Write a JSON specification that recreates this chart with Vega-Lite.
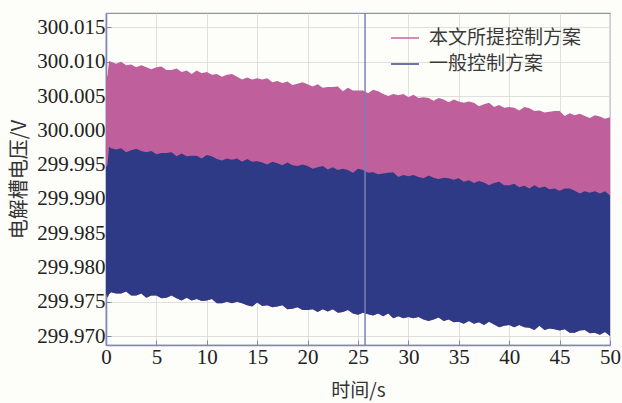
{
  "$schema": "https://vega.github.io/schema/vega-lite/v6.json",
  "autosize": "none",
  "width": 504,
  "height": 332,
  "padding": {"left": 106, "top": 13, "right": 12, "bottom": 58},
  "background": "#fdfdf9",
  "config": {
    "view": {"stroke": "#8c90bb", "strokeWidth": 1.2},
    "axis": {
      "labelFont": "Liberation Serif, DejaVu Serif, serif",
      "labelFontSize": 21,
      "labelColor": "#222222",
      "titleFont": "Noto Sans CJK SC",
      "titleFontSize": 19,
      "titleFontWeight": "normal",
      "titleColor": "#333333",
      "gridColor": "#d8d8d8",
      "gridWidth": 0.8,
      "domainColor": "#8286b6",
      "domainWidth": 1.6,
      "tickColor": "#8286b6",
      "tickSize": -5
    },
    "legend": {
      "labelFont": "Noto Sans CJK SC",
      "labelFontSize": 19,
      "labelColor": "#3a3a3a"
    }
  },
  "datasets": {
    "sig": [
      {"t": 0, "p": 300.0076, "b": 299.9946, "l": 299.9762},
      {"t": 0.15, "p": 300.0080, "b": 299.9950, "l": 299.9756},
      {"t": 0.3, "p": 300.0101, "b": 299.9976, "l": 299.9761},
      {"t": 0.5, "p": 300.0100, "b": 299.9974, "l": 299.9764},
      {"t": 1, "p": 300.0097, "b": 299.9972, "l": 299.9762},
      {"t": 1.5, "p": 300.0100, "b": 299.9974, "l": 299.9762},
      {"t": 2, "p": 300.0095, "b": 299.9968, "l": 299.9765},
      {"t": 2.5, "p": 300.0096, "b": 299.9971, "l": 299.9759},
      {"t": 3, "p": 300.0092, "b": 299.9973, "l": 299.9759},
      {"t": 3.5, "p": 300.0095, "b": 299.9970, "l": 299.9762},
      {"t": 4, "p": 300.0092, "b": 299.9968, "l": 299.9756},
      {"t": 4.5, "p": 300.0089, "b": 299.9970, "l": 299.9759},
      {"t": 5, "p": 300.0092, "b": 299.9965, "l": 299.9759},
      {"t": 5.5, "p": 300.0093, "b": 299.9967, "l": 299.9755},
      {"t": 6, "p": 300.0088, "b": 299.9967, "l": 299.9756},
      {"t": 6.5, "p": 300.0088, "b": 299.9968, "l": 299.9759},
      {"t": 7, "p": 300.0090, "b": 299.9962, "l": 299.9755},
      {"t": 7.5, "p": 300.0085, "b": 299.9966, "l": 299.9752},
      {"t": 8, "p": 300.0087, "b": 299.9962, "l": 299.9756},
      {"t": 8.5, "p": 300.0082, "b": 299.9963, "l": 299.9752},
      {"t": 9, "p": 300.0087, "b": 299.9963, "l": 299.9754},
      {"t": 9.5, "p": 300.0083, "b": 299.9959, "l": 299.9751},
      {"t": 10, "p": 300.0085, "b": 299.9964, "l": 299.9752},
      {"t": 10.5, "p": 300.0081, "b": 299.9962, "l": 299.9754},
      {"t": 11, "p": 300.0082, "b": 299.9958, "l": 299.9748},
      {"t": 11.5, "p": 300.0078, "b": 299.9956, "l": 299.9748},
      {"t": 12, "p": 300.0081, "b": 299.9959, "l": 299.9750},
      {"t": 12.5, "p": 300.0082, "b": 299.9957, "l": 299.9748},
      {"t": 13, "p": 300.0078, "b": 299.9959, "l": 299.9750},
      {"t": 13.5, "p": 300.0074, "b": 299.9954, "l": 299.9748},
      {"t": 14, "p": 300.0077, "b": 299.9958, "l": 299.9745},
      {"t": 14.5, "p": 300.0074, "b": 299.9954, "l": 299.9743},
      {"t": 15, "p": 300.0076, "b": 299.9955, "l": 299.9749},
      {"t": 15.5, "p": 300.0074, "b": 299.9953, "l": 299.9744},
      {"t": 16, "p": 300.0076, "b": 299.9950, "l": 299.9745},
      {"t": 16.5, "p": 300.0070, "b": 299.9954, "l": 299.9742},
      {"t": 17, "p": 300.0072, "b": 299.9952, "l": 299.9743},
      {"t": 17.5, "p": 300.0069, "b": 299.9949, "l": 299.9745},
      {"t": 18, "p": 300.0071, "b": 299.9953, "l": 299.9739},
      {"t": 18.5, "p": 300.0066, "b": 299.9949, "l": 299.9740},
      {"t": 19, "p": 300.0068, "b": 299.9948, "l": 299.9742},
      {"t": 19.5, "p": 300.0070, "b": 299.9950, "l": 299.9738},
      {"t": 20, "p": 300.0067, "b": 299.9948, "l": 299.9738},
      {"t": 20.5, "p": 300.0064, "b": 299.9944, "l": 299.9739},
      {"t": 21, "p": 300.0067, "b": 299.9946, "l": 299.9735},
      {"t": 21.5, "p": 300.0062, "b": 299.9948, "l": 299.9739},
      {"t": 22, "p": 300.0063, "b": 299.9943, "l": 299.9736},
      {"t": 22.5, "p": 300.0063, "b": 299.9946, "l": 299.9739},
      {"t": 23, "p": 300.0064, "b": 299.9942, "l": 299.9734},
      {"t": 23.5, "p": 300.0057, "b": 299.9944, "l": 299.9735},
      {"t": 24, "p": 300.0062, "b": 299.9942, "l": 299.9738},
      {"t": 24.5, "p": 300.0058, "b": 299.9938, "l": 299.9733},
      {"t": 25, "p": 300.0058, "b": 299.9944, "l": 299.9731},
      {"t": 25.5, "p": 300.0058, "b": 299.9942, "l": 299.9734},
      {"t": 26, "p": 300.0054, "b": 299.9938, "l": 299.9732},
      {"t": 26.5, "p": 300.0059, "b": 299.9939, "l": 299.9730},
      {"t": 27, "p": 300.0057, "b": 299.9936, "l": 299.9733},
      {"t": 27.5, "p": 300.0053, "b": 299.9937, "l": 299.9729},
      {"t": 28, "p": 300.0050, "b": 299.9938, "l": 299.9733},
      {"t": 28.5, "p": 300.0053, "b": 299.9939, "l": 299.9726},
      {"t": 29, "p": 300.0051, "b": 299.9932, "l": 299.9729},
      {"t": 29.5, "p": 300.0053, "b": 299.9935, "l": 299.9726},
      {"t": 30, "p": 300.0048, "b": 299.9933, "l": 299.9728},
      {"t": 30.5, "p": 300.0052, "b": 299.9935, "l": 299.9726},
      {"t": 31, "p": 300.0047, "b": 299.9932, "l": 299.9728},
      {"t": 31.5, "p": 300.0048, "b": 299.9930, "l": 299.9724},
      {"t": 32, "p": 300.0047, "b": 299.9934, "l": 299.9722},
      {"t": 32.5, "p": 300.0043, "b": 299.9931, "l": 299.9724},
      {"t": 33, "p": 300.0047, "b": 299.9929, "l": 299.9727},
      {"t": 33.5, "p": 300.0045, "b": 299.9931, "l": 299.9722},
      {"t": 34, "p": 300.0041, "b": 299.9930, "l": 299.9724},
      {"t": 34.5, "p": 300.0045, "b": 299.9928, "l": 299.9720},
      {"t": 35, "p": 300.0042, "b": 299.9930, "l": 299.9721},
      {"t": 35.5, "p": 300.0040, "b": 299.9925, "l": 299.9718},
      {"t": 36, "p": 300.0042, "b": 299.9927, "l": 299.9722},
      {"t": 36.5, "p": 300.0040, "b": 299.9923, "l": 299.9718},
      {"t": 37, "p": 300.0035, "b": 299.9926, "l": 299.9720},
      {"t": 37.5, "p": 300.0038, "b": 299.9924, "l": 299.9716},
      {"t": 38, "p": 300.0040, "b": 299.9920, "l": 299.9721},
      {"t": 38.5, "p": 300.0034, "b": 299.9923, "l": 299.9717},
      {"t": 39, "p": 300.0037, "b": 299.9925, "l": 299.9713},
      {"t": 39.5, "p": 300.0033, "b": 299.9920, "l": 299.9715},
      {"t": 40, "p": 300.0034, "b": 299.9920, "l": 299.9716},
      {"t": 40.5, "p": 300.0033, "b": 299.9922, "l": 299.9713},
      {"t": 41, "p": 300.0029, "b": 299.9917, "l": 299.9716},
      {"t": 41.5, "p": 300.0034, "b": 299.9919, "l": 299.9713},
      {"t": 42, "p": 300.0032, "b": 299.9915, "l": 299.9712},
      {"t": 42.5, "p": 300.0028, "b": 299.9920, "l": 299.9709},
      {"t": 43, "p": 300.0029, "b": 299.9916, "l": 299.9715},
      {"t": 43.5, "p": 300.0026, "b": 299.9918, "l": 299.9709},
      {"t": 44, "p": 300.0027, "b": 299.9914, "l": 299.9711},
      {"t": 44.5, "p": 300.0028, "b": 299.9915, "l": 299.9710},
      {"t": 45, "p": 300.0028, "b": 299.9912, "l": 299.9708},
      {"t": 45.5, "p": 300.0021, "b": 299.9915, "l": 299.9710},
      {"t": 46, "p": 300.0025, "b": 299.9915, "l": 299.9705},
      {"t": 46.5, "p": 300.0022, "b": 299.9912, "l": 299.9705},
      {"t": 47, "p": 300.0024, "b": 299.9908, "l": 299.9708},
      {"t": 47.5, "p": 300.0021, "b": 299.9911, "l": 299.9709},
      {"t": 48, "p": 300.0018, "b": 299.9909, "l": 299.9704},
      {"t": 48.5, "p": 300.0022, "b": 299.9911, "l": 299.9705},
      {"t": 49, "p": 300.0020, "b": 299.9908, "l": 299.9702},
      {"t": 49.5, "p": 300.0017, "b": 299.9911, "l": 299.9706},
      {"t": 50, "p": 300.0019, "b": 299.9905, "l": 299.9700}
    ],
    "cursor": [{"t": 25.7}]
  },
  "layer": [
    {
      "data": {"name": "sig"},
      "mark": {"type": "area", "interpolate": "linear"},
      "encoding": {
        "x": {
          "field": "t", "type": "quantitative",
          "scale": {"domain": [0, 50], "nice": false},
          "axis": {"values": [0, 5, 10, 15, 20, 25, 30, 35, 40, 45, 50], "title": "时间/s", "labelPadding": 6, "titlePadding": 14, "labelFlush": false, "labelOverlap": false}
        },
        "y": {
          "field": "p", "type": "quantitative",
          "scale": {"domain": [299.9687, 300.0171], "nice": false, "zero": false},
          "axis": {"tickCount": 10, "format": ".3f", "title": "电解槽电压/V", "labelPadding": 6, "titlePadding": 7, "titleFontSize": 20, "labelOverlap": false, "labelFontSize": 21}
        },
        "y2": {"field": "l"},
        "color": {
          "datum": "本文所提控制方案",
          "type": "nominal",
          "scale": {"domain": ["本文所提控制方案", "一般控制方案"], "range": ["#bf5f9b", "#2f3a86"]},
          "legend": {
            "orient": "none", "legendX": 284, "legendY": 10, "padding": 0,
            "title": null, "symbolType": "stroke", "symbolSize": 784,
            "symbolStrokeWidth": 2, "rowPadding": 1, "labelOffset": 9,
            "encode": {
              "symbols": {"update": {"stroke": {"scale": "color", "field": "value"}, "strokeWidth": {"value": 2}, "opacity": {"value": 0.7}}}
            }
          }
        }
      }
    },
    {
      "data": {"name": "sig"},
      "mark": {"type": "area", "interpolate": "linear"},
      "encoding": {
        "x": {"field": "t", "type": "quantitative"},
        "y": {"field": "b", "type": "quantitative"},
        "y2": {"field": "l"},
        "color": {"datum": "一般控制方案", "type": "nominal"}
      }
    },
    {
      "data": {"name": "cursor"},
      "mark": {"type": "rule", "color": "#7a7fb6", "strokeWidth": 1.5},
      "encoding": {"x": {"field": "t", "type": "quantitative"}}
    }
  ]
}
